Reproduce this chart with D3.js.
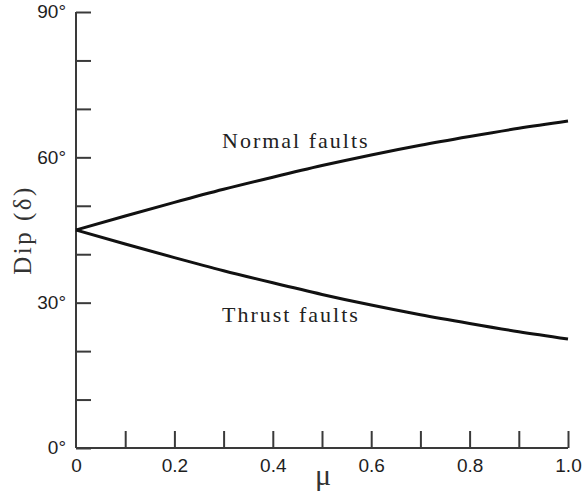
<!DOCTYPE html>
<html>
<head>
<meta charset="utf-8">
<script src="https://cdn.jsdelivr.net/npm/d3@7"></script>
<style>
  html, body { margin: 0; padding: 0; background: #fff; }
  svg { display: block; }
</style>
</head>
<body>
<svg id="chart" width="585" height="496"></svg>
<script>
// Friction coefficient values along the x axis
const mu = [0, 0.1, 0.2, 0.3, 0.4, 0.5, 0.6, 0.7, 0.8, 0.9, 1.0];
// Dip of normal faults (degrees) for each mu
const normalDip = [45, 47.9, 50.7, 53.4, 55.9, 58.3, 60.5, 62.5, 64.3, 66.0, 67.5];
// Dip of thrust faults (degrees) for each mu
const thrustDip = [45, 42.1, 39.3, 36.6, 34.1, 31.7, 29.5, 27.5, 25.7, 24.0, 22.5];

const xTicks = [0, 0.1, 0.2, 0.3, 0.4, 0.5, 0.6, 0.7, 0.8, 0.9, 1.0];
const xTickLabels = ["0", "", "0.2", "", "0.4", "", "0.6", "", "0.8", "", "1.0"];
const yTicks = [0, 10, 20, 30, 40, 50, 60, 70, 80, 90];
const yTickLabels = ["0°", "", "", "30°", "", "", "60°", "", "", "90°"];

const svg = d3.select("#chart");
const plotLeft = 76, plotRight = 568, plotTop = 12, plotBottom = 448;

const x = d3.scaleLinear().domain([0, 1]).range([plotLeft, plotRight]);
const y = d3.scaleLinear().domain([0, 90]).range([plotBottom, plotTop]);

const axisColor = "#3a3a3a";
const sans = "'Liberation Sans', Arial, sans-serif";
const serif = "'Liberation Serif', 'Times New Roman', serif";

// Y axis: ticks pointing into the plot
const yAxis = svg.append("g")
  .attr("transform", `translate(${plotLeft},0)`)
  .call(d3.axisRight(y).tickValues(yTicks).tickSize(15).tickFormat(""));
yAxis.select(".domain").attr("d", `M0,${plotTop}V${plotBottom}`);
yAxis.selectAll("path, line").attr("stroke", axisColor).attr("stroke-width", 2);

yAxis.selectAll(".tick").append("text")
  .attr("x", -10)
  .attr("dy", "0.3em")
  .attr("text-anchor", "end")
  .attr("fill", "#1e1e1e")
  .style("font-family", sans)
  .style("font-size", "19px")
  .text((d, i) => yTickLabels[i]);

// X axis: ticks pointing up into the plot
const xAxis = svg.append("g")
  .attr("transform", `translate(0,${plotBottom})`)
  .call(d3.axisTop(x).tickValues(xTicks).tickSize(17).tickFormat(""));
xAxis.select(".domain").attr("d", `M${plotLeft},0H${plotRight}`);
xAxis.selectAll("path, line").attr("stroke", axisColor).attr("stroke-width", 2);
xAxis.selectAll(".tick line").filter(d => d === 0).remove();

xAxis.selectAll(".tick").append("text")
  .attr("y", 24)
  .attr("text-anchor", "middle")
  .attr("fill", "#1e1e1e")
  .style("font-family", sans)
  .style("font-size", "19px")
  .text((d, i) => xTickLabels[i]);

// Curves
const line = d3.line()
  .x(d => x(d[0]))
  .y(d => y(d[1]))
  .curve(d3.curveMonotoneX);

[normalDip, thrustDip].forEach(series => {
  svg.append("path")
    .datum(mu.map((m, i) => [m, series[i]]))
    .attr("fill", "none")
    .attr("stroke", "#111")
    .attr("stroke-width", 3)
    .attr("stroke-linejoin", "round")
    .attr("d", line);
});

// Curve labels
svg.append("text")
  .attr("x", 222).attr("y", 148)
  .style("font-family", serif).style("font-size", "22px")
  .style("letter-spacing", "2px").attr("fill", "#222")
  .text("Normal faults");
svg.append("text")
  .attr("x", 222).attr("y", 322)
  .style("font-family", serif).style("font-size", "22px")
  .style("letter-spacing", "2px").attr("fill", "#222")
  .text("Thrust faults");

// Axis titles
svg.append("text")
  .attr("transform", `translate(31,230) rotate(-90)`)
  .attr("text-anchor", "middle")
  .style("font-family", serif).style("font-size", "25px")
  .style("letter-spacing", "2.5px")
  .attr("fill", "#333")
  .text("Dip (δ)");
svg.append("text")
  .attr("x", 323).attr("y", 485)
  .attr("text-anchor", "middle")
  .style("font-family", serif).style("font-size", "30px")
  .attr("fill", "#333")
  .text("μ");
</script>
</body>
</html>
